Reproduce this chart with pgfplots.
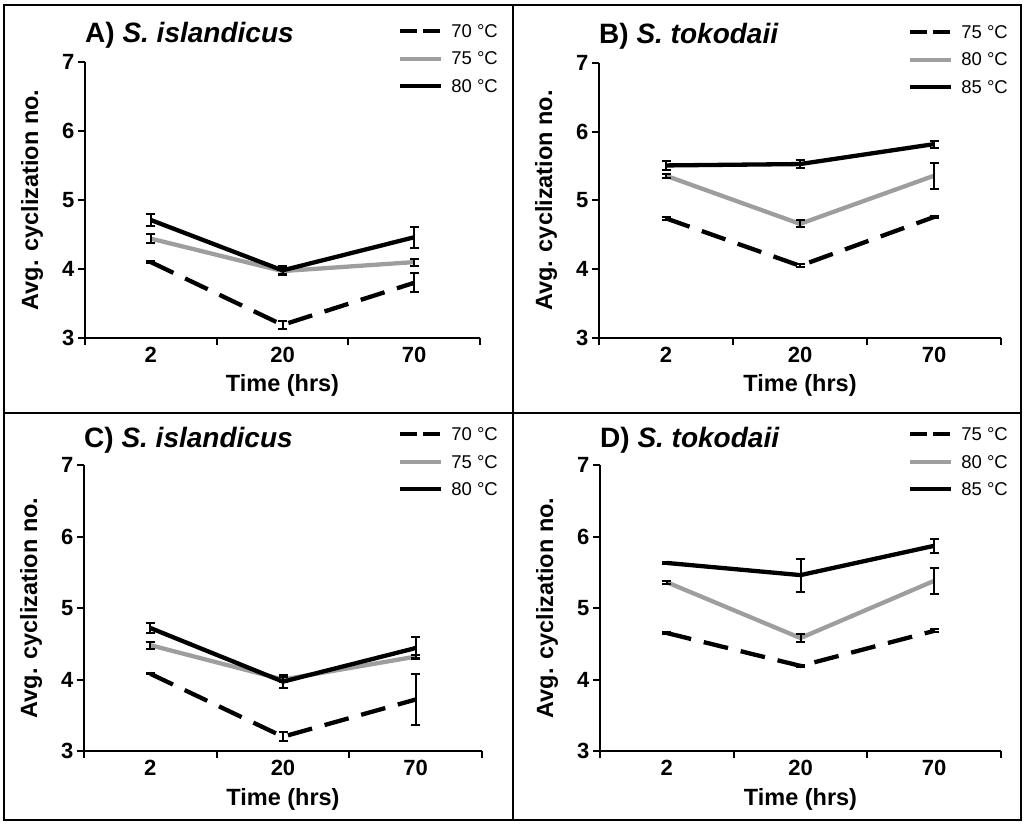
\documentclass[border=0pt]{standalone}
\usepackage{fontspec}
\setmainfont{Liberation Sans}
\usepackage{pgfplots}
\pgfplotsset{compat=1.18}

\definecolor{lgray}{HTML}{9E9E9E}

\pgfplotsset{
  panel/.style={
    scale only axis,
    xmin=0, xmax=3, ymin=3, ymax=7,
    axis lines=left,
    axis line style={-, line width=2pt, black},
    xtick={0,1,2,3}, xticklabels={},
    extra x ticks={0.5,1.5,2.5},
    extra x tick labels={2,20,70},
    extra x tick style={major tick length=0pt, xticklabel style={yshift=-6pt}},
    ytick={3,4,5,6,7},
    tick style={line width=2pt, black},
    major tick length=7pt,
    tick align=outside,
    /pgf/number format/assume math mode=true,
    tick label style={font=\bfseries\fontsize{22}{22}\selectfont},
    xlabel={Time (hrs)},
    ylabel={Avg. cyclization no.},
    label style={font=\bfseries\fontsize{23.5}{24}\selectfont},
    xlabel style={at={([yshift=-54pt]axis description cs:0.5,0)}, anchor=base, inner sep=0pt},
    ylabel style={at={([xshift=-53pt]axis description cs:0,0.5)}, anchor=center, inner sep=0pt},
    title style={at={(axis description cs:0,1)}, anchor=base west, inner sep=0pt,
      yshift=13pt, font=\bfseries\fontsize{28}{30}\selectfont},
    legend image code/.code={\draw[#1] (0pt,6.3pt) -- (41pt,6.3pt);},
    legend style={draw=none, fill=none, inner sep=0pt, outer sep=0pt,
      at={(axis description cs:0,1)}, anchor=north west, yshift=37.5pt,
      column sep=8pt, row sep=10.5pt,
      font=\fontsize{18.5}{18.5}\selectfont,
      nodes={inner sep=0pt, text height=13pt, text depth=4pt},
      cells={anchor=base west}},
    error bars/error bar style={line width=2pt, solid, black},
    error bars/error mark options={rotate=90, mark size=4.5pt, line width=2pt, solid, black},
  },
  slow/.style={black, line width=4.3pt, dash pattern=on 25pt off 13pt, no marks,
    legend image code/.code={\draw[#1, dash pattern=on 17pt off 6pt] (0pt,6.3pt) -- (41pt,6.3pt);},
    error bars/.cd, y dir=both, y explicit},
  smid/.style={lgray, line width=4.3pt, solid, no marks,
    error bars/.cd, y dir=both, y explicit},
  shigh/.style={black, line width=4.3pt, solid, no marks,
    error bars/.cd, y dir=both, y explicit},
}

\begin{document}
\begin{tikzpicture}[x=1pt, y=1pt]
\useasboundingbox (0,0) rectangle (1024,825);

% A) S. islandicus
\begin{axis}[panel, at={(85pt,487pt)}, anchor=south west, width=395pt, height=276pt,
  title={A) \textit{S. islandicus}}, legend style={xshift=313pt}]
\addplot[slow] coordinates {(0.5,4.10) +- (0,0.01) (1.5,3.19) +- (0,0.06) (2.5,3.80) +- (0,0.14)};
\addlegendentry{70 °C}
\addplot[smid] coordinates {(0.5,4.44) +- (0,0.06) (1.5,3.97) +- (0,0.04) (2.5,4.10) +- (0,0.05)};
\addlegendentry{75 °C}
\addplot[shigh] coordinates {(0.5,4.71) +- (0,0.08) (1.5,3.98) +- (0,0.06) (2.5,4.46) +- (0,0.15)};
\addlegendentry{80 °C}
\end{axis}

% B) S. tokodaii
\begin{axis}[panel, at={(599pt,487pt)}, anchor=south west, width=402pt, height=275pt,
  title={B) \textit{S. tokodaii}}, legend style={xshift=309pt}]
\addplot[slow] coordinates {(0.5,4.74) +- (0,0.02) (1.5,4.05) +- (0,0.02) (2.5,4.76) +- (0,0.02)};
\addlegendentry{75 °C}
\addplot[smid] coordinates {(0.5,5.36) +- (0,0.03) (1.5,4.66) +- (0,0.05) (2.5,5.36) +- (0,0.19)};
\addlegendentry{80 °C}
\addplot[shigh] coordinates {(0.5,5.51) +- (0,0.07) (1.5,5.53) +- (0,0.06) (2.5,5.82) +- (0,0.05)};
\addlegendentry{85 °C}
\end{axis}

% C) S. islandicus
\begin{axis}[panel, at={(84pt,74pt)}, anchor=south west, width=398pt, height=286pt,
  title={C) \textit{S. islandicus}}, title style={yshift=-1pt}, legend style={xshift=314pt}]
\addplot[slow] coordinates {(0.5,4.08) +- (0,0.01) (1.5,3.20) +- (0,0.06) (2.5,3.72) +- (0,0.35)};
\addlegendentry{70 °C}
\addplot[smid] coordinates {(0.5,4.48) +- (0,0.05) (1.5,4.00) +- (0,0.03) (2.5,4.32) +- (0,0.02)};
\addlegendentry{75 °C}
\addplot[shigh] coordinates {(0.5,4.72) +- (0,0.07) (1.5,3.97) +- (0,0.09) (2.5,4.44) +- (0,0.15)};
\addlegendentry{80 °C}
\end{axis}

% D) S. tokodaii
\begin{axis}[panel, at={(600pt,74pt)}, anchor=south west, width=401pt, height=286pt,
  title={D) \textit{S. tokodaii}}, title style={yshift=-1pt}, legend style={xshift=308pt}]
\addplot[slow] coordinates {(0.5,4.65) +- (0,0.01) (1.5,4.19) +- (0,0.01) (2.5,4.68) +- (0,0.02)};
\addlegendentry{75 °C}
\addplot[smid] coordinates {(0.5,5.36) +- (0,0.02) (1.5,4.58) +- (0,0.06) (2.5,5.38) +- (0,0.18)};
\addlegendentry{80 °C}
\addplot[shigh] coordinates {(0.5,5.63) +- (0,0.02) (1.5,5.46) +- (0,0.23) (2.5,5.87) +- (0,0.10)};
\addlegendentry{85 °C}
\end{axis}

% frame
\draw[line width=2pt] (3.7,5) rectangle (1021.3,819.5);
\draw[line width=2pt] (513,5) -- (513,819.5);
\draw[line width=2pt] (3.7,412) -- (1021.3,412);
\end{tikzpicture}
\end{document}
